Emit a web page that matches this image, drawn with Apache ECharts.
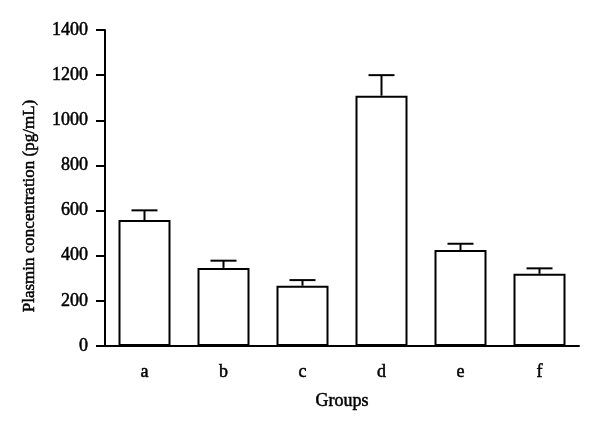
<!DOCTYPE html>
<html>
<head>
<meta charset="utf-8">
<script src="https://cdn.jsdelivr.net/npm/echarts@6/dist/echarts.min.js"></script>
<style>
  html, body { margin: 0; padding: 0; background: #fff; }
  #chart { width: 600px; height: 431px; }
</style>
</head>
<body>
<div id="chart"></div>
<script>
// groups and plasmin means, with the top of each error bar
const groups = ['a', 'b', 'c', 'd', 'e', 'f']
const means = [558, 346, 267, 1109, 425, 320]
const errTops = [601, 378, 292, 1200, 453, 344]
const yTicks = { min: 0, max: 1400, interval: 200 }

// slightly heavier serif text, close to the printed figure
const txt = { fontFamily: 'Liberation Serif', color: '#000', textBorderColor: '#000', textBorderWidth: 0.5 }

const chart = echarts.init(document.getElementById('chart'))

const option = {
    backgroundColor: '#fff',
    animation: false,
    grid: {
        left: 105,
        right: 21,
        top: 30,
        bottom: 85,
        containLabel: false
    },
    xAxis: {
        type: 'category',
        data: groups,
        name: 'Groups',
        nameLocation: 'middle',
        nameGap: 46,
        nameTextStyle: Object.assign({ fontSize: 18 }, txt),
        axisLine: { lineStyle: { color: '#000', width: 2 } },
        axisTick: { alignWithLabel: true, length: 9, lineStyle: { color: '#000', width: 2 } },
        axisLabel: Object.assign({ fontSize: 18, margin: 17 }, txt),
        splitLine: { show: false }
    },
    yAxis: {
        type: 'value',
        min: yTicks.min,
        max: yTicks.max,
        interval: yTicks.interval,
        name: 'Plasmin concentration (pg/mL)',
        nameLocation: 'middle',
        nameGap: 67,
        nameTextStyle: Object.assign({ fontSize: 17, padding: [0, 36, 0, 0] }, txt),
        axisLine: { show: true, lineStyle: { color: '#000', width: 2 } },
        axisTick: { show: true, length: 9, lineStyle: { color: '#000', width: 2 } },
        axisLabel: Object.assign({
            fontSize: 18, margin: 17,
            formatter: function (v) { return String(v) }
        }, txt),
        splitLine: { show: false }
    },
    series: [
        {
            type: 'bar',
            data: means,
            barWidth: 52,
            itemStyle: { color: '#fff', borderColor: '#000', borderWidth: 2 },
            z: 2
        },
        {
            // error bars: stem from the mean up to the top, with a cap
            type: 'custom',
            data: groups.map((g, i) => [i, means[i], errTops[i]]),
            z: 3,
            renderItem: function (params, api) {
                const base = api.coord([api.value(0), api.value(1)])
                const top = api.coord([api.value(0), api.value(2)])
                const half = 13
                const style = { stroke: '#000', lineWidth: 2 }
                return {
                    type: 'group',
                    children: [
                        { type: 'line', shape: { x1: base[0], y1: base[1], x2: top[0], y2: top[1] }, style: style },
                        { type: 'line', shape: { x1: top[0] - half, y1: top[1], x2: top[0] + half, y2: top[1] }, style: style }
                    ]
                }
            }
        }
    ]
}

chart.setOption(option)
</script>
</body>
</html>
